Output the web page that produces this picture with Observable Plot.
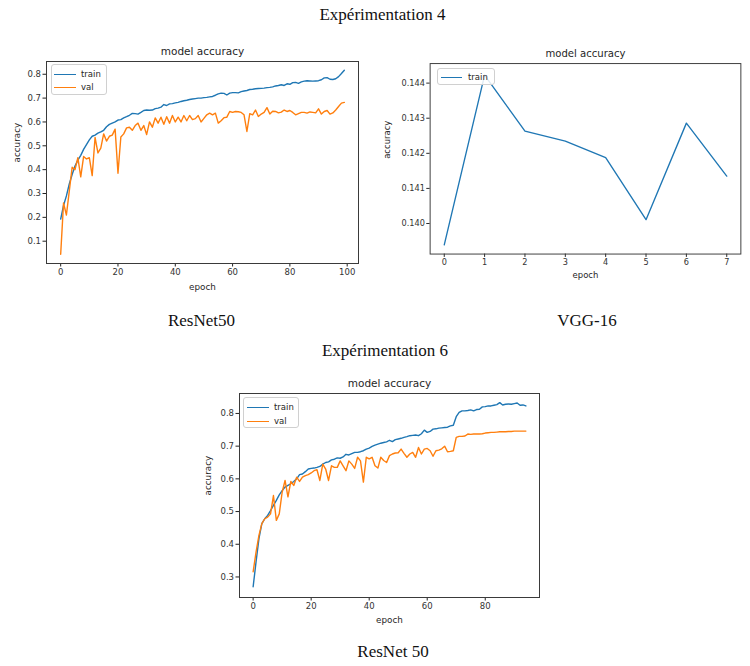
<!DOCTYPE html>
<html>
<head>
<meta charset="utf-8">
<script src="https://cdn.jsdelivr.net/npm/d3@7"></script>
<script src="https://cdn.jsdelivr.net/npm/@observablehq/plot@0.6"></script>
<style>
  html, body { margin: 0; padding: 0; background: #fff; }
  body { width: 750px; height: 666px; position: relative; overflow: hidden; }
  .abs { position: absolute; }
  .cap { position: absolute; font-family: "Liberation Serif", "Times New Roman", serif; font-size: 17px; color: #111; transform: translate(-50%, -50%); white-space: nowrap; }
  .legend { position: absolute; border: 1px solid #d0d0d0; border-radius: 3px; background: rgba(255,255,255,0.85); box-sizing: border-box; }
  .legend .ln { position: absolute; height: 0; border-top: 1.5px solid; }
  .legend .tx { position: absolute; font-family: "DejaVu Sans", sans-serif; font-size: 8.5px; color: #262626; transform: translateY(-55%); }
</style>
</head>
<body>
<script>
// ---------------- data ----------------
// Expérimentation 4 — ResNet50 (epochs 0..99)
const exp4Train = [0.193,0.25,0.29,0.34,0.38,0.415,0.44,0.46,0.485,0.505,
  0.525,0.54,0.545,0.553,0.558,0.565,0.58,0.59,0.595,0.60,
  0.608,0.61,0.617,0.622,0.628,0.636,0.635,0.633,0.64,0.648,
  0.65,0.649,0.65,0.656,0.658,0.662,0.673,0.669,0.676,0.677,
  0.68,0.682,0.686,0.689,0.691,0.694,0.696,0.698,0.70,0.70,
  0.702,0.703,0.705,0.707,0.712,0.718,0.721,0.72,0.713,0.721,
  0.723,0.723,0.722,0.727,0.73,0.732,0.736,0.737,0.739,0.74,
  0.741,0.742,0.744,0.745,0.747,0.751,0.753,0.756,0.753,0.76,
  0.758,0.765,0.766,0.762,0.768,0.771,0.773,0.772,0.771,0.772,
  0.773,0.777,0.785,0.786,0.779,0.778,0.781,0.79,0.803,0.817];
const exp4Val = [0.045,0.26,0.21,0.31,0.41,0.40,0.45,0.37,0.455,0.445,
  0.45,0.375,0.535,0.47,0.49,0.55,0.52,0.54,0.545,0.57,
  0.385,0.537,0.55,0.575,0.578,0.565,0.585,0.595,0.565,0.585,
  0.547,0.60,0.578,0.617,0.595,0.62,0.59,0.622,0.595,0.627,
  0.60,0.62,0.60,0.627,0.605,0.627,0.61,0.614,0.627,0.60,
  0.615,0.63,0.637,0.63,0.637,0.595,0.605,0.618,0.62,0.644,
  0.64,0.644,0.643,0.64,0.63,0.56,0.635,0.63,0.65,0.623,
  0.633,0.64,0.66,0.633,0.645,0.644,0.638,0.641,0.65,0.644,
  0.648,0.64,0.63,0.635,0.64,0.64,0.637,0.642,0.64,0.638,
  0.655,0.633,0.644,0.648,0.633,0.638,0.65,0.665,0.679,0.682];

// Expérimentation 4 — VGG-16 (epochs 0..7)
const vggTrain = [0.13939,0.14423,0.14263,0.14235,0.14188,0.14011,0.14286,0.14135];

// Expérimentation 6 — ResNet 50 (epochs 0..94)
const exp6Train = [0.27,0.346,0.417,0.463,0.478,0.488,0.503,0.519,0.534,0.551,
  0.564,0.575,0.58,0.585,0.592,0.60,0.613,0.615,0.622,0.63,
  0.632,0.633,0.635,0.638,0.645,0.65,0.652,0.658,0.66,0.664,
  0.663,0.667,0.675,0.673,0.677,0.681,0.681,0.683,0.686,0.691,
  0.694,0.699,0.703,0.706,0.709,0.711,0.713,0.718,0.714,0.72,
  0.722,0.724,0.727,0.729,0.732,0.733,0.734,0.732,0.738,0.749,
  0.742,0.745,0.752,0.753,0.755,0.756,0.757,0.758,0.762,0.764,
  0.79,0.803,0.808,0.808,0.809,0.811,0.808,0.812,0.813,0.82,
  0.821,0.823,0.823,0.825,0.827,0.833,0.826,0.828,0.829,0.828,
  0.83,0.832,0.825,0.826,0.823];
const exp6Val = [0.316,0.376,0.427,0.463,0.478,0.483,0.493,0.549,0.473,0.493,
  0.559,0.595,0.545,0.592,0.58,0.605,0.592,0.605,0.61,0.613,
  0.618,0.625,0.628,0.595,0.645,0.63,0.595,0.64,0.635,0.635,
  0.655,0.64,0.625,0.655,0.645,0.632,0.666,0.655,0.59,0.666,
  0.661,0.666,0.64,0.633,0.666,0.656,0.65,0.671,0.676,0.679,
  0.68,0.691,0.678,0.666,0.676,0.681,0.666,0.696,0.676,0.691,
  0.693,0.686,0.669,0.686,0.688,0.692,0.70,0.683,0.684,0.686,
  0.727,0.73,0.73,0.731,0.737,0.736,0.737,0.737,0.737,0.738,
  0.74,0.741,0.742,0.742,0.743,0.744,0.744,0.744,0.745,0.745,
  0.746,0.746,0.746,0.746,0.746];

const seriesNames = ["train", "val"];
const seriesColors = ["#1f77b4", "#ff7f0e"];

const captions = [
  {text: "Expérimentation 4", x: 382.5, y: 15},
  {text: "ResNet50", x: 201.5, y: 320.5},
  {text: "VGG-16", x: 587, y: 320.5},
  {text: "Expérimentation 6", x: 385, y: 351},
  {text: "ResNet 50", x: 393, y: 652}
];

// ---------------- drawing ----------------
function toRows(values, name) {
  return values.map((v, i) => ({epoch: i, acc: v, series: name}));
}

function chart(o) {
  const marks = [
    Plot.axisX({ticks: o.xticks, tickSize: 3.5, tickPadding: 2, label: null, tickFormat: d => String(d), stroke: "#222", fill: "#333"}),
    Plot.axisY({ticks: o.yticks, tickSize: 3.5, tickPadding: 2, label: null, tickFormat: o.yfmt, stroke: "#222", fill: "#333"})
  ];
  o.series.forEach((s, i) => {
    marks.push(Plot.line(toRows(s, seriesNames[i]), {x: "epoch", y: "acc", stroke: seriesColors[i], strokeWidth: 1.4}));
  });
  marks.push(Plot.frame({stroke: "#3a3a3a", strokeWidth: 1}));
  marks.push(Plot.text(["model accuracy"], {text: d => d, frameAnchor: "top", dy: -10, fontSize: 10.5, fill: "#262626", lineAnchor: "middle"}));
  marks.push(Plot.text(["epoch"], {text: d => d, frameAnchor: "bottom", dy: o.xlabDy, fontSize: 8.8, fill: "#262626", lineAnchor: "middle"}));
  marks.push(Plot.text(["accuracy"], {text: d => d, frameAnchor: "left", dx: o.ylabDx, rotate: -90, fontSize: 8.8, fill: "#262626"}));
  return Plot.plot({
    width: o.width, height: o.height,
    marginLeft: o.ml, marginRight: o.mr, marginTop: o.mt, marginBottom: o.mb,
    style: {fontFamily: "'DejaVu Sans', sans-serif", fontSize: "8.5px", background: "white", color: "#333", overflow: "visible"},
    x: {domain: o.xdomain},
    y: {domain: o.ydomain},
    marks
  });
}

function place(node, left, top, w, h) {
  const d = document.createElement("div");
  d.className = "abs";
  d.style.left = left + "px"; d.style.top = top + "px";
  if (w) { d.style.width = w + "px"; d.style.height = h + "px"; d.style.overflow = "hidden"; }
  d.appendChild(node);
  document.body.appendChild(d);
}

function legend(box, rows) {
  const d = document.createElement("div");
  d.className = "legend";
  d.style.left = box.x + "px"; d.style.top = box.y + "px";
  d.style.width = box.w + "px"; d.style.height = box.h + "px";
  rows.forEach(r => {
    const ln = document.createElement("div");
    ln.className = "ln";
    ln.style.left = r.lx + "px"; ln.style.width = r.lw + "px"; ln.style.top = r.y + "px";
    ln.style.borderTopColor = r.color;
    const tx = document.createElement("div");
    tx.className = "tx";
    tx.style.left = r.tx + "px"; tx.style.top = r.y + "px";
    tx.textContent = r.name;
    d.appendChild(ln); d.appendChild(tx);
  });
  document.body.appendChild(d);
}

const fmt1 = d3.format(".1f");
const fmt3 = d3.format(".3f");

// Chart 1: Expérimentation 4 ResNet50
place(chart({
  width: 370, height: 260, ml: 46, mr: 12, mt: 21, mb: 37,
  xdomain: [-4.95, 103.95], ydomain: [0.0065, 0.8535],
  xticks: [0, 20, 40, 60, 80, 100], yticks: [0.1, 0.2, 0.3, 0.4, 0.5, 0.6, 0.7, 0.8], yfmt: fmt1,
  series: [exp4Train, exp4Val], xlabDy: 24, ylabDx: -29
}), 0, 40);

// Chart 2: Expérimentation 4 VGG-16
place(chart({
  width: 395, height: 260, ml: 62, mr: 10, mt: 24, mb: 38,
  xdomain: [-0.35, 7.35], ydomain: [0.13913, 0.144557],
  xticks: [0, 1, 2, 3, 4, 5, 6, 7], yticks: [0.140, 0.141, 0.142, 0.143, 0.144], yfmt: fmt3,
  series: [vggTrain], xlabDy: 22, ylabDx: -45
}), 370, 40, 380, 260);

// Chart 3: Expérimentation 6 ResNet 50
place(chart({
  width: 370, height: 260, ml: 49, mr: 21, mt: 23, mb: 33,
  xdomain: [-4.7, 98.7], ydomain: [0.2372, 0.861],
  xticks: [0, 20, 40, 60, 80], yticks: [0.3, 0.4, 0.5, 0.6, 0.7, 0.8], yfmt: fmt1,
  series: [exp6Train, exp6Val], xlabDy: 23, ylabDx: -31
}), 190, 370);

// Legends
legend({x: 51, y: 64, w: 56, h: 31}, [
  {name: "train", color: seriesColors[0], lx: 2, lw: 22, tx: 29, y: 9},
  {name: "val", color: seriesColors[1], lx: 2, lw: 22, tx: 29, y: 22}
]);
legend({x: 437, y: 68, w: 58, h: 17}, [
  {name: "train", color: seriesColors[0], lx: 3, lw: 21, tx: 30, y: 8}
]);
legend({x: 243, y: 397, w: 56, h: 31}, [
  {name: "train", color: seriesColors[0], lx: 3, lw: 22, tx: 30, y: 8.5},
  {name: "val", color: seriesColors[1], lx: 3, lw: 22, tx: 30, y: 22.5}
]);

// Captions
captions.forEach(c => {
  const d = document.createElement("div");
  d.className = "cap";
  d.style.left = c.x + "px"; d.style.top = c.y + "px";
  d.textContent = c.text;
  document.body.appendChild(d);
});
</script>
</body>
</html>
